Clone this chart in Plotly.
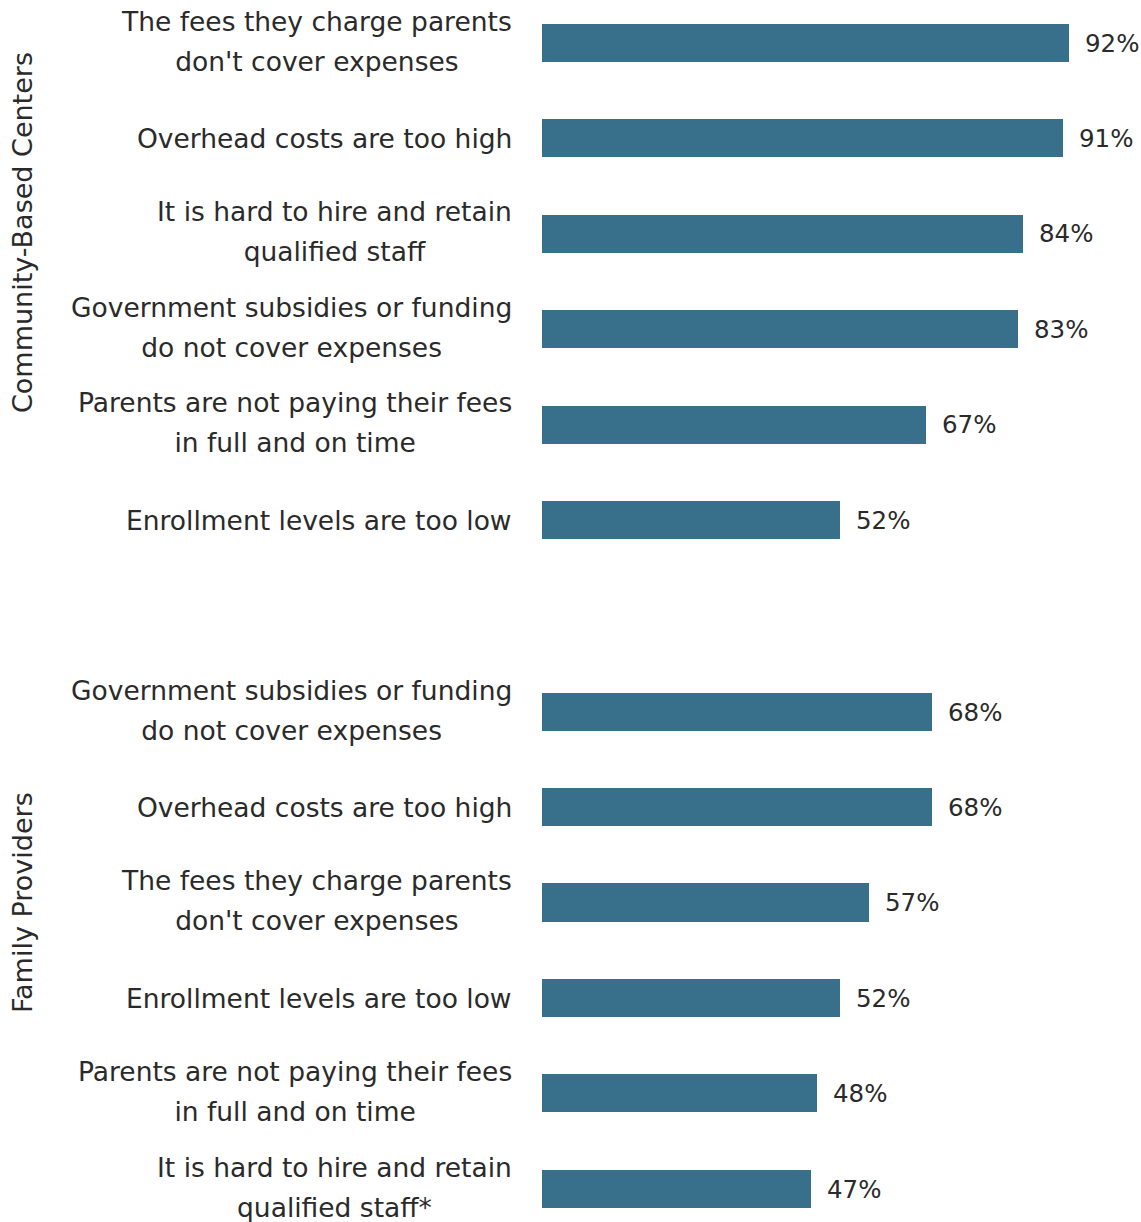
import plotly.graph_objects as go

# Reasons providers give for financial strain, by provider type
centers_labels = [
    "The fees they charge parents<br>don't cover expenses",
    "Overhead costs are too high",
    "It is hard to hire and retain<br>qualified staff",
    "Government subsidies or funding<br>do not cover expenses",
    "Parents are not paying their fees<br>in full and on time",
    "Enrollment levels are too low",
]
centers_values = [92, 91, 84, 83, 67, 52]

family_labels = [
    "Government subsidies or funding<br>do not cover expenses",
    "Overhead costs are too high",
    "The fees they charge parents<br>don't cover expenses",
    "Enrollment levels are too low",
    "Parents are not paying their fees<br>in full and on time",
    "It is hard to hire and retain<br>qualified staff*",
]
family_values = [68, 68, 57, 52, 48, 47]

group_titles = ["Community-Based Centers", "Family Providers"]

# ---- layout geometry (pixels) ----
W, H = 1141, 1222
BAR_X0 = 542            # left edge of the bars
PX_PER_PCT = 5.73       # horizontal scale
SLOT = 95.4             # distance between bar centres
TOP1 = 43               # centre of first bar, first group
TOP2 = 712              # centre of first bar, second group
LABEL_RIGHT = 514       # right edge of category label boxes
TWO_LINE_LIFT = 2       # two-line labels sit a touch above bar centres
FONT = "DejaVu Sans"
TEXT_SIZE = 26.5
VALUE_SIZE = 24.5
TITLE_SIZE = 27
TEXT_COLOR = "#2a2a2a"
BAR_COLOR = "#386f8b"


def py(px):
    """pixel row -> paper fraction"""
    return 1 - px / H


x_max = (W - BAR_X0) / PX_PER_PCT

# group 1 axis: top of figure to half a slot below its last bar
g1_top_val = -TOP1 / SLOT
g1_bottom_px = TOP1 + 5.5 * SLOT
# group 2 axis: half a slot above its first bar to the bottom of figure
g2_top_px = TOP2 - 0.5 * SLOT
g2_bottom_val = (H - TOP2) / SLOT

fig = go.Figure()
fig.add_trace(go.Bar(
    x=centers_values, y=centers_labels, orientation="h",
    marker=dict(color=BAR_COLOR, line=dict(width=0)), width=0.4,
    xaxis="x", yaxis="y", hoverinfo="x+y",
))
fig.add_trace(go.Bar(
    x=family_values, y=family_labels, orientation="h",
    marker=dict(color=BAR_COLOR, line=dict(width=0)), width=0.4,
    xaxis="x2", yaxis="y2", hoverinfo="x+y",
))

annotations = []
# line spacing: outer font sets the line pitch, inner span sets glyph size
LINE_PITCH = 39.5
outer_size = LINE_PITCH / 1.3


def label_html(s):
    return "<br>".join(
        f"<span style='font-size:{TEXT_SIZE}px'>{part}</span>" for part in s.split("<br>")
    )


for labels, values, xr, yr in [
    (centers_labels, centers_values, "x", "y"),
    (family_labels, family_values, "x2", "y2"),
]:
    for lab, val in zip(labels, values):
        annotations.append(dict(
            text=label_html(lab), x=LABEL_RIGHT / W, xref="paper",
            y=lab, yref=yr, xanchor="right", yanchor="middle", align="center",
            yshift=TWO_LINE_LIFT if "<br>" in lab else 0, showarrow=False,
            font=dict(family=FONT, size=outer_size, color=TEXT_COLOR),
        ))
        annotations.append(dict(
            text=f"{val}%", x=val, xref=xr, y=lab, yref=yr,
            xanchor="left", yanchor="middle", xshift=14, showarrow=False,
            font=dict(family=FONT, size=VALUE_SIZE, color=TEXT_COLOR),
        ))

for title, centre_px in zip(group_titles, [233, 903]):
    annotations.append(dict(
        text=title, x=22 / W, xref="paper", y=py(centre_px), yref="paper",
        textangle=-90, xanchor="center", yanchor="middle", showarrow=False,
        font=dict(family=FONT, size=TITLE_SIZE, color=TEXT_COLOR),
    ))

hidden = dict(showgrid=False, zeroline=False, showticklabels=False,
              showline=False, ticks="", fixedrange=True)

fig.update_layout(
    width=W, height=H,
    margin=dict(l=0, r=0, t=0, b=0),
    paper_bgcolor="white", plot_bgcolor="white",
    showlegend=False, bargap=0,
    xaxis=dict(domain=[BAR_X0 / W, 1], range=[0, x_max], anchor="y", **hidden),
    xaxis2=dict(domain=[BAR_X0 / W, 1], range=[0, x_max], anchor="y2", **hidden),
    yaxis=dict(domain=[py(g1_bottom_px), 1], range=[5.5, g1_top_val],
               type="category", anchor="x", **hidden),
    yaxis2=dict(domain=[0, py(g2_top_px)], range=[g2_bottom_val, -0.5],
                type="category", anchor="x2", **hidden),
    annotations=annotations,
)

fig.write_html("out.html")
